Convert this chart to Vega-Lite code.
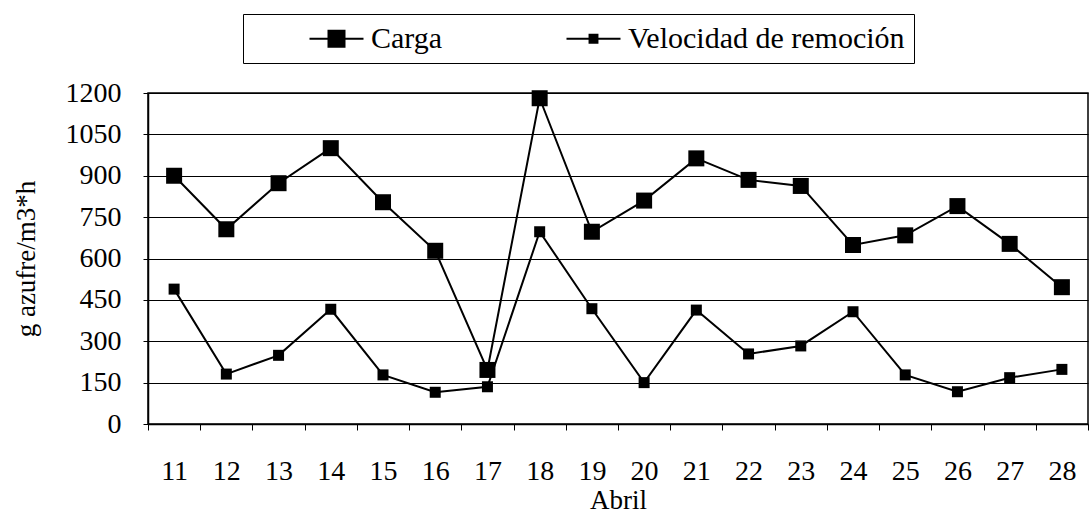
{
  "$schema": "https://vega.github.io/schema/vega-lite/v6.json",
  "autosize": "none",
  "width": 940,
  "height": 331,
  "padding": {"left": 148, "top": 93, "right": 1, "bottom": 94},
  "background": "white",
  "config": {
    "view": {"stroke": "black", "strokeWidth": 1.5},
    "font": "Liberation Serif"
  },
  "data": {
    "values": [
      {"dia": "11", "serie": "Carga", "valor": 900},
      {"dia": "12", "serie": "Carga", "valor": 706},
      {"dia": "13", "serie": "Carga", "valor": 873},
      {"dia": "14", "serie": "Carga", "valor": 1000},
      {"dia": "15", "serie": "Carga", "valor": 804},
      {"dia": "16", "serie": "Carga", "valor": 628},
      {"dia": "17", "serie": "Carga", "valor": 196},
      {"dia": "18", "serie": "Carga", "valor": 1181},
      {"dia": "19", "serie": "Carga", "valor": 697},
      {"dia": "20", "serie": "Carga", "valor": 810},
      {"dia": "21", "serie": "Carga", "valor": 963},
      {"dia": "22", "serie": "Carga", "valor": 885},
      {"dia": "23", "serie": "Carga", "valor": 863},
      {"dia": "24", "serie": "Carga", "valor": 649},
      {"dia": "25", "serie": "Carga", "valor": 684},
      {"dia": "26", "serie": "Carga", "valor": 790},
      {"dia": "27", "serie": "Carga", "valor": 653},
      {"dia": "28", "serie": "Carga", "valor": 496},
      {"dia": "11", "serie": "Velocidad de remoción", "valor": 489},
      {"dia": "12", "serie": "Velocidad de remoción", "valor": 181},
      {"dia": "13", "serie": "Velocidad de remoción", "valor": 249},
      {"dia": "14", "serie": "Velocidad de remoción", "valor": 416},
      {"dia": "15", "serie": "Velocidad de remoción", "valor": 178},
      {"dia": "16", "serie": "Velocidad de remoción", "valor": 115},
      {"dia": "17", "serie": "Velocidad de remoción", "valor": 135},
      {"dia": "18", "serie": "Velocidad de remoción", "valor": 697},
      {"dia": "19", "serie": "Velocidad de remoción", "valor": 418},
      {"dia": "20", "serie": "Velocidad de remoción", "valor": 150},
      {"dia": "21", "serie": "Velocidad de remoción", "valor": 413},
      {"dia": "22", "serie": "Velocidad de remoción", "valor": 254},
      {"dia": "23", "serie": "Velocidad de remoción", "valor": 283},
      {"dia": "24", "serie": "Velocidad de remoción", "valor": 407},
      {"dia": "25", "serie": "Velocidad de remoción", "valor": 178},
      {"dia": "26", "serie": "Velocidad de remoción", "valor": 117},
      {"dia": "27", "serie": "Velocidad de remoción", "valor": 168},
      {"dia": "28", "serie": "Velocidad de remoción", "valor": 198}
    ]
  },
  "encoding": {
    "x": {
      "field": "dia",
      "type": "ordinal",
      "bandPosition": 0.5,
      "scale": {"type": "band", "paddingInner": 0, "paddingOuter": 0},
      "axis": {
        "title": "Abril",
        "titleFont": "Liberation Serif",
        "titleFontSize": 27,
        "titleFontWeight": "normal",
        "titleColor": "black",
        "titlePadding": 2,
        "labelFont": "Liberation Serif",
        "labelFontSize": 28,
        "labelColor": "black",
        "labelAngle": 0,
        "labelPadding": 27,
        "tickBand": "extent",
        "tickColor": "black",
        "tickSize": 6,
        "domainColor": "black",
        "domainWidth": 1.5,
        "grid": false
      }
    },
    "y": {
      "field": "valor",
      "type": "quantitative",
      "scale": {"domain": [0, 1200]},
      "axis": {
        "title": "g azufre/m3*h",
        "titleFont": "Liberation Serif",
        "titleFontSize": 27,
        "titleFontWeight": "normal",
        "titleColor": "black",
        "titlePadding": 25,
        "values": [0, 150, 300, 450, 600, 750, 900, 1050, 1200],
        "format": "d",
        "labelFont": "Liberation Serif",
        "labelFontSize": 28,
        "labelColor": "black",
        "labelPadding": 22,
        "tickColor": "black",
        "tickSize": 5,
        "domainColor": "black",
        "domainWidth": 1.5,
        "grid": true,
        "gridColor": "black",
        "gridWidth": 1,
        "gridOpacity": 1
      }
    }
  },
  "layer": [
    {
      "mark": {"type": "line", "color": "black", "strokeWidth": 2},
      "encoding": {"detail": {"field": "serie", "type": "nominal"}}
    },
    {
      "mark": {"type": "point", "shape": "square", "filled": true, "color": "black", "opacity": 1},
      "encoding": {
        "size": {
          "condition": {"test": "datum.serie === 'Carga'", "value": 256},
          "value": 121
        }
      }
    },
    {
      "mark": {"type": "point", "filled": true, "color": "black", "fillOpacity": 0, "strokeOpacity": 0, "size": 900},
      "encoding": {
        "shape": {
          "field": "serie",
          "type": "nominal",
          "scale": {
            "domain": ["Carga", "Velocidad de remoción"],
            "range": [
              "M2.8,-0.07H4.0V-0.6H5.2V-0.07H6.4V0.07H5.2V0.6H4.0V0.07H2.8Z",
              "M2.8,-0.07H4.27V-0.33H4.93V-0.07H6.4V0.07H4.93V0.33H4.27V0.07H2.8Z"
            ]
          },
          "legend": {
            "title": null,
            "orient": "none",
            "direction": "horizontal",
            "legendX": 95,
            "legendY": -79,
            "strokeColor": "black",
            "padding": 9,
            "labelFont": "Liberation Serif",
            "labelFontSize": 30,
            "labelColor": "black",
            "labelLimit": 500,
            "columnPadding": 66,
            "labelOffset": 88,
            "symbolSize": 900,
            "symbolFillColor": "black",
            "symbolStrokeColor": "black",
            "symbolStrokeWidth": 0.5,
            "encode": {
              "symbols": {
                "fill": {"value": "black"},
                "stroke": {"value": "black"},
                "strokeWidth": {"value": 0.5},
                "opacity": {"value": 1},
                "fillOpacity": {"value": 1},
                "strokeOpacity": {"value": 1},
                "size": {"value": 900}
              }
            }
          }
        }
      }
    }
  ]
}
